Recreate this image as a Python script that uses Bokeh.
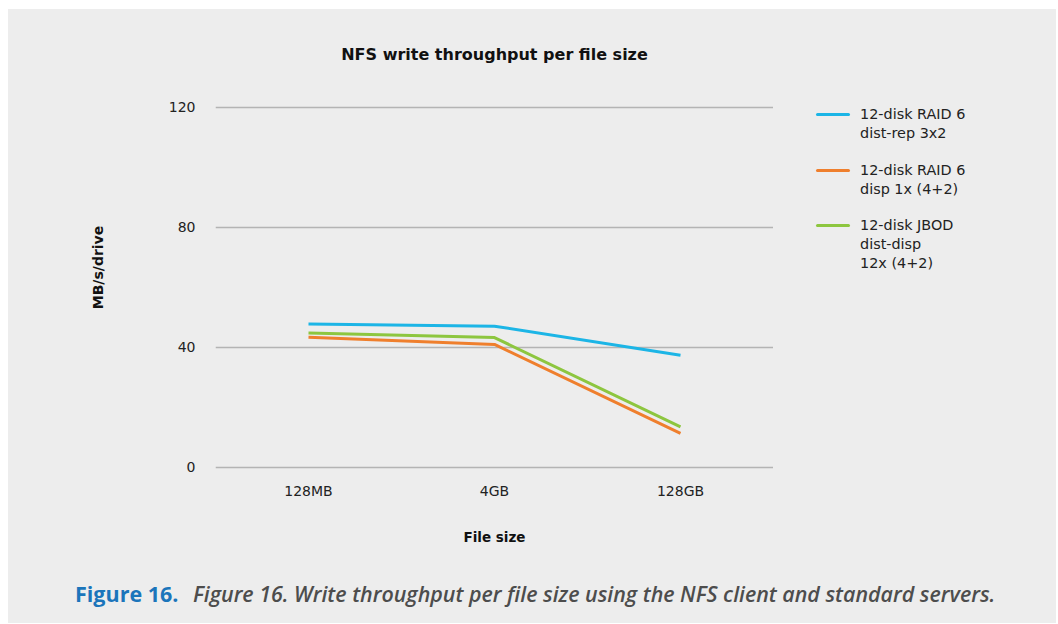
from bokeh.plotting import figure
from bokeh.models import FactorRange, Range1d, FixedTicker, Div
from bokeh.layouts import column, row
from bokeh.embed import file_html
from bokeh.resources import INLINE

categories = ["128MB", "4GB", "128GB"]
raid6_distrep = [47.7, 47.0, 37.3]
raid6_disp = [43.3, 40.9, 11.2]
jbod_distdisp = [44.7, 43.2, 13.4]
y_ticks = [0, 40, 80, 120]

series_labels = [
    ["12-disk RAID 6", "dist-rep 3x2"],
    ["12-disk RAID 6", "disp 1x (4+2)"],
    ["12-disk JBOD", "dist-disp", "12x (4+2)"],
]
colors = ["#1cb5e6", "#ef7f2d", "#8dc63f"]
title_text = "NFS write throughput per file size"
caption_head = "Figure 16."
caption_text = "Figure 16. Write throughput per file size using the NFS client and standard servers."

BG = "#ededed"
FONT = "DejaVu Sans"
TOTAL_W, TOTAL_H = 1048, 614

# ---- main chart ----
MH = 552
PW = 765
frame_left = 207
frame_top, frame_bottom = 54, 462

p = figure(width=PW, height=MH, x_range=FactorRange(*categories),
           y_range=Range1d(-1.5, 134.67), output_backend="svg", toolbar_location=None,
           min_border_left=frame_left, min_border_right=0,
           min_border_top=frame_top, min_border_bottom=MH - frame_bottom)
p.background_fill_color = BG
p.background_fill_alpha = 0
p.border_fill_color = BG
p.outline_line_color = None
p.styles = {"background-color": BG}

p.title.text = title_text
p.title.align = "center"
p.title.offset = -2
p.title.text_font = FONT
p.title.text_font_size = "16px"
p.title.text_font_style = "bold"
p.title.text_color = "#111111"
p.title.standoff = 0
p.title.text_line_height = 1.0

p.xgrid.grid_line_color = None
p.ygrid.grid_line_color = "#b4b4b4"
p.ygrid.grid_line_width = 1.5
p.yaxis.ticker = FixedTicker(ticks=y_ticks)

for ax in (p.xaxis[0], p.yaxis[0]):
    ax.axis_line_color = None
    ax.major_tick_line_color = None
    ax.minor_tick_line_color = None
    ax.major_label_text_font = FONT
    ax.major_label_text_font_size = "14px"
    ax.major_label_text_color = "#222222"
    ax.axis_label_text_font = FONT
    ax.axis_label_text_font_style = "bold"
    ax.axis_label_text_color = "#111111"

p.yaxis.major_label_standoff = 14
p.yaxis.axis_label = "MB/s/drive"
p.yaxis.axis_label_text_font_size = "14px"
p.yaxis.axis_label_standoff = 60
p.xaxis.major_label_standoff = 5
p.xaxis.axis_label = "File size"
p.xaxis.axis_label_text_font_size = "13.5px"
p.xaxis.axis_label_standoff = 27

for vals, c in zip([raid6_distrep, raid6_disp, jbod_distdisp], colors):
    p.line(categories, vals, line_color=c, line_width=3)

# ---- legend (HTML) ----
LW = TOTAL_W - PW
group_tops = [96, 152, 207]  # top of each legend text block
parts = [f'<div style="position:relative;width:{LW}px;height:{MH}px;background:{BG};'
         f'font-family:\'{FONT}\';font-size:14.4px;color:#222222;">']
for lbl, c, top in zip(series_labels, colors, group_tops):
    parts.append(f'<div style="position:absolute;left:43px;top:{top + 8}px;width:34px;'
                 f'height:3px;border-radius:1.5px;background:{c};"></div>')
    parts.append(f'<div style="position:absolute;left:87px;top:{top}px;line-height:19px;'
                 f'white-space:nowrap;">' + "<br>".join(lbl) + '</div>')
parts.append('</div>')
legend_div = Div(text="".join(parts), width=LW, height=MH, margin=0,
                 styles={"background-color": BG})

# ---- caption ----
CH = TOTAL_H - MH
cap_html = (
    f'<div style="position:relative;width:{TOTAL_W}px;height:{CH}px;background:{BG};'
    f'font-family:\'Open Sans\',sans-serif;">'
    f'<span style="position:absolute;left:67px;top:18px;line-height:30px;font-size:21.5px;'
    f'font-weight:700;color:#1b75bb;white-space:nowrap;">{caption_head}</span>'
    f'<span style="position:absolute;left:185px;top:18px;line-height:30px;font-size:21.4px;'
    f'font-weight:600;font-style:italic;color:#4d4d4d;white-space:nowrap;">{caption_text}</span>'
    f'</div>'
)
cap = Div(text=cap_html, width=TOTAL_W, height=CH, margin=0,
          styles={"background-color": BG})

layout = column(row(p, legend_div, spacing=0), cap, spacing=0, margin=(9, 0, 0, 8))
open("out.html", "w").write(file_html(layout, INLINE))
